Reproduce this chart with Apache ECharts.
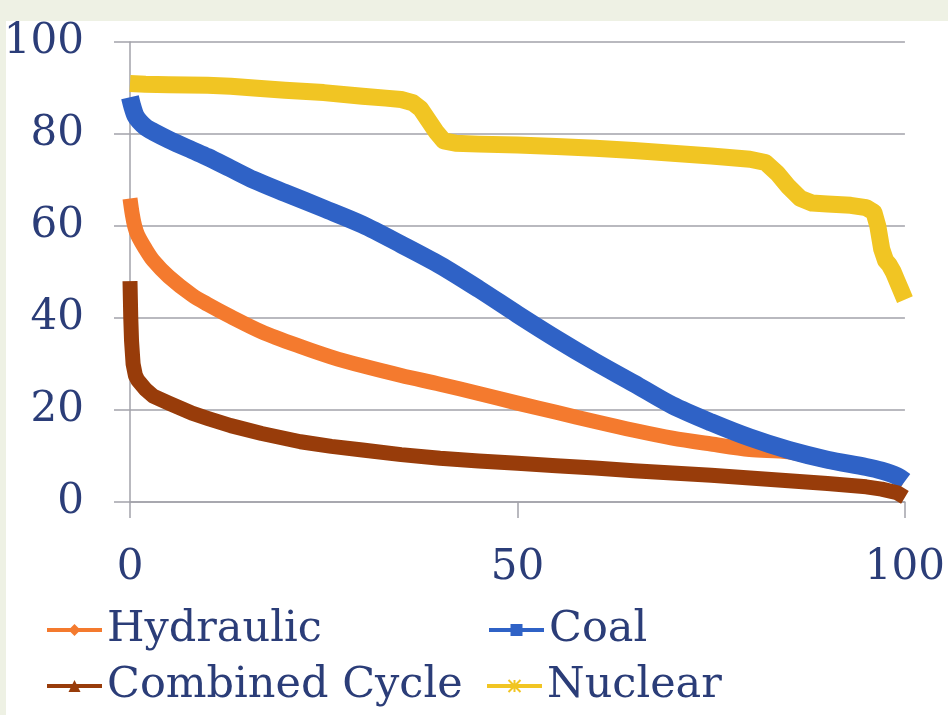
<!DOCTYPE html>
<html>
<head>
<meta charset="utf-8">
<style>
  html, body { margin: 0; padding: 0; background: #ffffff; }
  #chart { width: 948px; height: 715px; }
</style>
<script src="https://cdn.jsdelivr.net/npm/echarts@6/dist/echarts.min.js"></script>
</head>
<body>
<div id="chart"></div>
<script>
// Load duration curves by technology (percent of time vs. percent of capacity)
const seriesNames = ['Hydraulic', 'Coal', 'Combined Cycle', 'Nuclear'];

const hydraulicX = [0, 0.3, 0.6, 1, 2, 3, 5, 8, 10, 13, 17, 22, 26, 30, 35, 40, 45, 50, 55, 60, 65, 70, 75, 80, 85, 90, 95, 98, 100];
const hydraulicY = [66, 62.5, 60, 58, 55, 52.5, 49, 45, 43, 40.3, 37, 33.8, 31.5, 29.6, 27.5, 25.6, 23.6, 21.5, 19.5, 17.5, 15.6, 13.9, 12.6, 11.4, 10.9, 9, 7.5, 6.3, 4.8];

const coalX = [0, 0.3, 0.7, 1.2, 2, 3, 5, 8, 10, 13, 16, 20, 25, 30, 35, 40, 45, 50, 55, 60, 65, 70, 75, 80, 85, 90, 95, 97, 99, 100];
const coalY = [88, 86, 84, 82.8, 81.5, 80.5, 78.8, 76.5, 75, 72.5, 70, 67.2, 63.8, 60.3, 56, 51.5, 46.3, 40.8, 35.5, 30.5, 25.8, 21, 17.3, 14, 11.3, 9.2, 7.6, 6.8, 5.6, 4.5];

const combinedX = [0, 0.05, 0.1, 0.2, 0.4, 0.7, 1, 2, 3, 5, 8, 10, 13, 17, 22, 26, 30, 35, 40, 45, 50, 55, 60, 65, 70, 75, 80, 85, 90, 95, 97, 99, 100];
const combinedY = [48, 44, 40, 35, 30, 27.5, 26.5, 24.5, 23, 21.5, 19.3, 18.2, 16.6, 14.9, 13.1, 12.1, 11.3, 10.3, 9.5, 8.9, 8.4, 7.9, 7.4, 6.8, 6.3, 5.8, 5.2, 4.6, 4, 3.3, 2.8, 2, 1];

const nuclearX = [0, 2, 5, 10, 13, 16, 20, 25, 30, 33, 35, 36.5, 37.5, 38.5, 39.5, 40.5, 42, 45, 50, 55, 60, 65, 70, 75, 80, 82, 83.5, 85, 86.5, 88, 90, 93, 95, 96, 96.5, 97, 97.5, 98, 98.5, 99, 99.5, 100];
const nuclearY = [91, 90.8, 90.7, 90.6, 90.4, 90, 89.5, 89, 88.2, 87.8, 87.5, 86.8, 85.5, 83, 80.5, 78.5, 78, 77.8, 77.6, 77.3, 76.9, 76.4, 75.8, 75.2, 74.5, 73.8, 71.5, 68.5, 66, 65, 64.8, 64.5, 64, 63, 60, 55, 52.5, 51.5, 50, 48, 46, 44];

const xTicks = { min: 0, max: 100, step: 50 };
const yTicks = { min: 0, max: 100, step: 20 };

const colors = ['#f47a2e', '#2f62c6', '#983c0a', '#f1c523'];
const widths = [15, 18, 15, 17];
const smoothness = [0.3, 0.3, false, false];
const symbols = ['diamond', 'rect', 'triangle', 'path://M0 0L10 10M10 0L0 10M5 0L5 10'];

const textColor = '#2b3d78';
const gridColor = '#a2a2aa';
const serif = '"DejaVu Serif", "Liberation Serif", serif';

function pairs(xs, ys) {
  return xs.map((x, i) => [x, ys[i]]);
}

const dataSets = [
  pairs(hydraulicX, hydraulicY),
  pairs(coalX, coalY),
  pairs(combinedX, combinedY),
  pairs(nuclearX, nuclearY)
];

const series = seriesNames.map((name, i) => ({
  name: name,
  type: 'line',
  data: dataSets[i],
  symbol: symbols[i],
  showSymbol: false,
  smooth: smoothness[i],
  color: colors[i],
  itemStyle: { color: colors[i], borderColor: colors[i], borderWidth: i === 3 ? 1.5 : 0 },
  lineStyle: { width: widths[i], color: colors[i], join: 'round', cap: 'butt' },
  emphasis: { disabled: true },
  z: 2 + i
}));

// One legend block per entry so the two columns line up
const legendPos = [
  { left: 45, top: 605 },
  { left: 487, top: 605 },
  { left: 45, top: 661 },
  { left: 485, top: 661 }
];
const legends = seriesNames.map((name, i) => ({
  data: [name],
  left: legendPos[i].left,
  top: legendPos[i].top,
  orient: 'horizontal',
  selectedMode: false,
  itemWidth: 55,
  itemHeight: 15,
  padding: 0,
  lineStyle: { width: 4 },
  textStyle: { fontFamily: serif, fontSize: 43, color: textColor, lineHeight: 50 }
}));

const chart = echarts.init(document.getElementById('chart'), null, { renderer: 'canvas' });
chart.setOption({
  animation: false,
  backgroundColor: '#ffffff',
  graphic: [
    { type: 'rect', shape: { x: 0, y: 0, width: 948, height: 21 }, style: { fill: '#eef1e4' }, silent: true, z: -10 },
    { type: 'rect', shape: { x: 0, y: 0, width: 6, height: 715 }, style: { fill: '#eef1e4' }, silent: true, z: -10 }
  ],
  grid: { left: 130, right: 42, top: 42, bottom: 213, containLabel: false },
  xAxis: {
    type: 'value',
    min: xTicks.min,
    max: xTicks.max,
    interval: xTicks.step,
    axisLine: { show: true, lineStyle: { color: gridColor, width: 1.5 } },
    axisTick: { show: true, length: 16, inside: false, lineStyle: { color: gridColor, width: 1.5 } },
    splitLine: { show: false },
    axisLabel: { fontFamily: serif, fontSize: 42, color: textColor, margin: 45 }
  },
  yAxis: {
    type: 'value',
    min: yTicks.min,
    max: yTicks.max,
    interval: yTicks.step,
    axisLine: { show: true, lineStyle: { color: gridColor, width: 1.5 } },
    axisTick: { show: true, length: 16, inside: false, lineStyle: { color: gridColor, width: 1.5 } },
    splitLine: { show: true, lineStyle: { color: gridColor, width: 1.5 } },
    axisLabel: { fontFamily: serif, fontSize: 42, color: textColor, margin: 46 }
  },
  legend: legends,
  series: series
});
</script>
</body>
</html>
